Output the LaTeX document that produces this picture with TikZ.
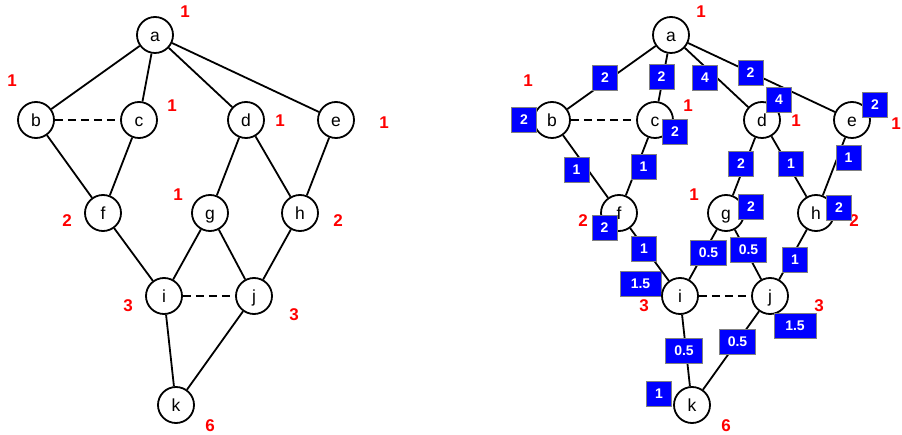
\documentclass[tikz,border=0pt]{standalone}
\usepackage{fontspec}
\setmainfont{Liberation Sans}
\begin{document}
\begin{tikzpicture}[x=1pt,y=-1pt]
\tikzset{
  vtx/.style={circle, draw, line width=1.8pt, fill=white, minimum size=36pt,
    inner sep=0pt, text height=12.5pt, text depth=0pt,
    font=\fontsize{17.5}{17.5}\selectfont},
  cnt/.style={text=red, inner sep=0pt, text height=12pt, text depth=0pt,
    font=\bfseries\fontsize{17}{17}\selectfont},
  wt/.style={fill=blue, draw=gray, line width=0.6pt, text=white,
    minimum height=25pt, minimum width=24pt, inner xsep=8.5pt, inner ysep=0pt,
    text height=10pt, text depth=0pt,
    font=\bfseries\fontsize{14}{14}\selectfont},
  link/.style={line width=1.8pt},
  dlink/.style={line width=1.8pt, dash pattern=on 8pt off 5pt}
}
\useasboundingbox (0,0) rectangle (902,435);

% vertices of the graph
\newcommand\graphnodes{%
  \node[vtx] (a) at (155,35) {a};
  \node[vtx] (b) at (36,120) {b};
  \node[vtx] (c) at (139,120) {c};
  \node[vtx] (d) at (246,120) {d};
  \node[vtx] (e) at (336,120) {e};
  \node[vtx] (f) at (103,213) {f};
  \node[vtx] (g) at (210,213) {g};
  \node[vtx] (h) at (300,213) {h};
  \node[vtx] (i) at (164,296) {i};
  \node[vtx] (j) at (254,296) {j};
  \node[vtx] (k) at (176,405) {k};
}
% edges of the graph
\newcommand\graphedges{%
  \draw[link] (a) -- (b);
  \draw[link] (a) -- (c);
  \draw[link] (a) -- (d);
  \draw[link] (a) -- (e);
  \draw[dlink] (b) -- (c);
  \draw[link] (b) -- (f);
  \draw[link] (c) -- (f);
  \draw[link] (d) -- (g);
  \draw[link] (d) -- (h);
  \draw[link] (e) -- (h);
  \draw[link] (f) -- (i);
  \draw[link] (g) -- (i);
  \draw[link] (g) -- (j);
  \draw[link] (h) -- (j);
  \draw[dlink] (i) -- (j);
  \draw[link] (i) -- (k);
  \draw[link] (j) -- (k);
}
% path counts shared by both drawings
\newcommand\graphcounts{%
  \node[cnt] (na) at (185,12) {1};
  \node[cnt] (nb) at (12,81) {1};
  \node[cnt] (nc) at (172,106) {1};
  \node[cnt] (nd) at (280,121) {1};
  \node[cnt] (ng) at (178,195) {1};
  \node[cnt] (nf) at (67,221) {2};
  \node[cnt] (nh) at (338,221) {2};
  \node[cnt] (ni) at (128,306) {3};
  \node[cnt] (nk) at (210,425) {6};
}

% left graph
\graphnodes
\graphedges
\graphcounts
\node[cnt] (ne) at (384,123) {1};
\node[cnt] (nj) at (294,315) {3};

% right graph with weights
\node[wt, minimum width=41pt] (wi) at (640.5,283.5) {1.5};
\begin{scope}[xshift=516pt, name prefix=r-]
  \graphnodes
  \graphedges
  \graphcounts
\end{scope}
\node[cnt] (r-ne) at (896,124) {1};
\node[cnt] (r-nj) at (819,306) {3};

\node[wt] (wab) at (605,77.5) {2};
\node[wt] (wac) at (661.5,77) {2};
\node[wt] (wad) at (705,78) {4};
\node[wt] (wae) at (750.5,73) {2};
\node[wt] (wb) at (524,119.5) {2};
\node[wt] (wc) at (675,131.5) {2};
\node[wt] (wd) at (779,99.5) {4};
\node[wt] (we) at (875,105) {2};
\node[wt] (wbf) at (576.5,169.5) {1};
\node[wt] (wcf) at (643.5,167) {1};
\node[wt] (wdg) at (741,164) {2};
\node[wt] (wdh) at (791,163.5) {1};
\node[wt] (weh) at (848.5,158) {1};
\node[wt] (wg) at (751,207) {2};
\node[wt] (wh) at (839,207.5) {2};
\node[wt] (wf) at (604.5,228) {2};
\node[wt] (wfi) at (644,248.5) {1};
\node[wt] (wgi) at (708.5,252.5) {0.5};
\node[wt] (wgj) at (748.5,249.5) {0.5};
\node[wt] (whj) at (795,259.5) {1};
\node[wt, minimum width=42pt] (wj) at (795,325.5) {1.5};
\node[wt] (wik) at (684,350.5) {0.5};
\node[wt] (wjk) at (737.5,342) {0.5};
\node[wt] (wk) at (659,393.5) {1};
\end{tikzpicture}
\end{document}
